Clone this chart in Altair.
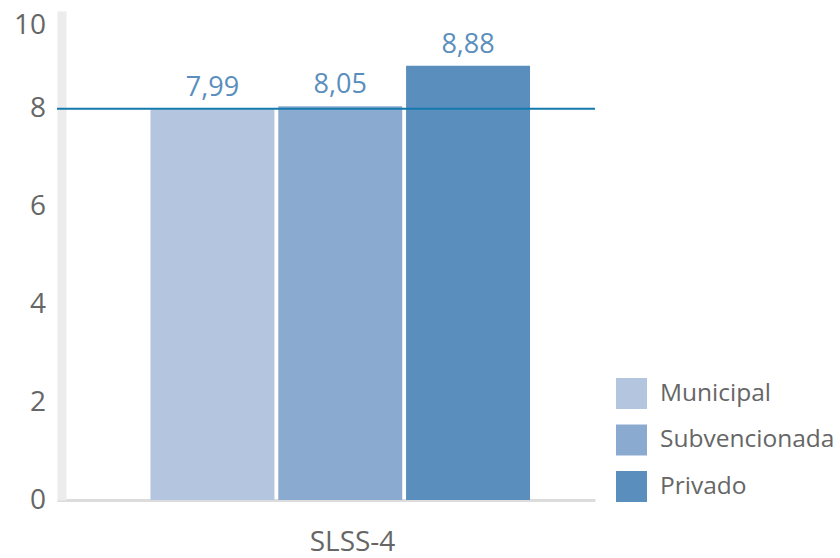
import altair as alt
import pandas as pd

groups = ["Municipal", "Subvencionada", "Privado"]
values = [7.99, 8.05, 8.88]
colors = ["#b3c5df", "#8aabcf", "#598ebd"]
reference = [8]
y_ticks = [0, 2, 4, 6, 8, 10]
category = "SLSS-4"

df = pd.DataFrame({"group": groups, "value": values})
ref_df = pd.DataFrame({"ref": reference})

FONT = "Open Sans"

x = alt.X(
    "group:N",
    sort=groups,
    scale=alt.Scale(paddingInner=0.03, paddingOuter=0.62, align=0.59),
    axis=alt.Axis(
        title=category,
        labels=False,
        ticks=False,
        domainColor="#dcdcdc",
        domainWidth=3,
        titleFont=FONT,
        titleFontSize=28,
        titleFontWeight="normal",
        titleColor="#666666",
        titleX=295,
        titleY=42,
        titleBaseline="middle",
        titleAnchor="middle",
    ),
)
y = alt.Y(
    "value:Q",
    scale=alt.Scale(domain=[0, 10], nice=False),
    axis=alt.Axis(
        title=None,
        values=y_ticks,
        grid=False,
        ticks=False,
        domainColor="#ececec",
        domainWidth=9,
        offset=-4.5,
        labelPadding=16,
        labelFont=FONT,
        labelFontSize=28,
        labelColor="#666666",
        labelBaseline=alt.ExprRef("datum.value == 10 ? 'top' : 'middle'"),
    ),
)

bars = alt.Chart(df).mark_bar().encode(
    x=x,
    y=y,
    color=alt.Color(
        "group:N",
        sort=groups,
        scale=alt.Scale(domain=groups, range=colors),
        legend=alt.Legend(
            title=None,
            orient="none",
            legendX=559,
            legendY=367,
            symbolType="square",
            symbolSize=961,
            symbolStrokeWidth=0,
            symbolOpacity=1,
            labelFont=FONT,
            labelFontSize=24.5,
            labelColor="#666666",
            labelOffset=13,
            labelLimit=400,
            rowPadding=15.5,
        ),
    ),
)

labels = alt.Chart(df).transform_calculate(
    label="replace(format(datum.value, '.2f'), '.', ',')"
).mark_text(
    baseline="alphabetic", dy=-13, font=FONT, fontSize=27, color="#5a8ebd"
).encode(
    x=alt.X("group:N", sort=groups),
    y="value:Q",
    text="label:N",
)

rule = alt.Chart(ref_df).mark_rule(color="#1479ad", strokeWidth=2).encode(
    y="ref:Q"
)

chart = alt.layer(bars, rule, labels).properties(
    width=538,
    height=489,
    background="white",
    autosize=alt.AutoSizeParams(type="none"),
    padding={"left": 57, "top": 11, "right": 245, "bottom": 58},
).configure_view(strokeWidth=0, stroke="transparent")

chart.save("out.html", embed_options={"renderer": "svg", "actions": False})
